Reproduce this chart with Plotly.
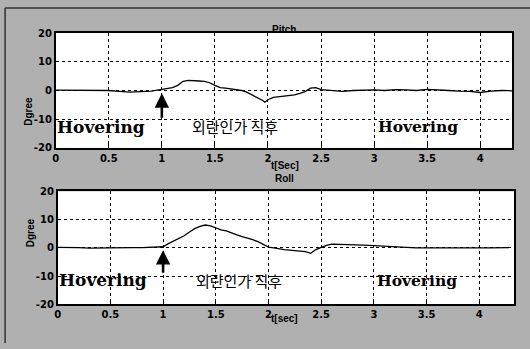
import plotly.graph_objects as go

# Pitch response (deg) over time (sec)
pitch_t = [0.0, 0.1, 0.2, 0.3, 0.4, 0.5, 0.6, 0.7, 0.8, 0.9, 1.0, 1.05, 1.1, 1.15,
           1.2, 1.25, 1.3, 1.35, 1.4, 1.45, 1.5, 1.55, 1.6, 1.65, 1.7, 1.75, 1.8,
           1.85, 1.9, 1.95, 1.97, 2.0, 2.05, 2.1, 2.15, 2.2, 2.25, 2.3, 2.35, 2.4,
           2.45, 2.5, 2.6, 2.7, 2.8, 2.9, 3.0, 3.1, 3.2, 3.3, 3.4, 3.5, 3.6, 3.7,
           3.8, 3.9, 4.0, 4.1, 4.2, 4.3]
pitch_deg = [0.1, 0.1, 0.2, 0.1, 0.0, 0.0, -0.3, -0.6, -0.4, -0.2, 0.4, 0.8, 1.0,
             1.8, 3.2, 3.5, 3.5, 3.3, 3.2, 2.7, 1.8, 1.0, 0.8, 0.6, 0.3, 0.0, -0.6,
             -1.5, -2.5, -3.5, -4.1, -3.2, -2.4, -2.2, -2.0, -1.8, -1.5, -1.0, -0.4,
             0.8, 1.0, 0.3, 0.1, -0.3, 0.0, 0.1, 0.2, 0.0, 0.3, 0.2, 0.0, 0.4, 0.1,
             0.0, -0.2, -0.3, -0.7, -0.2, 0.0, -0.1]

# Roll response (deg) over time (sec)
roll_t = [0.0, 0.1, 0.2, 0.3, 0.4, 0.5, 0.6, 0.7, 0.8, 0.9, 1.0, 1.05, 1.1, 1.15,
          1.2, 1.25, 1.3, 1.35, 1.4, 1.45, 1.5, 1.55, 1.6, 1.65, 1.7, 1.75, 1.8,
          1.85, 1.9, 1.95, 2.0, 2.05, 2.1, 2.15, 2.2, 2.25, 2.3, 2.35, 2.4, 2.45,
          2.5, 2.55, 2.6, 2.7, 2.8, 2.9, 3.0, 3.1, 3.2, 3.3, 3.4, 3.5, 3.6, 3.7,
          3.8, 3.9, 4.0, 4.1, 4.2, 4.28]
roll_deg = [0.2, 0.2, 0.1, -0.1, 0.0, 0.0, 0.0, 0.1, 0.1, 0.2, 0.4, 1.5, 2.4, 3.3,
            4.3, 5.6, 6.8, 7.6, 8.1, 7.8, 7.0, 6.4, 6.0, 5.2, 4.6, 4.0, 3.5, 2.9,
            2.2, 1.3, 0.3, 0.0, -0.4, -0.6, -0.8, -1.0, -1.1, -1.3, -1.9, -0.6,
            0.2, 0.9, 1.3, 1.2, 1.3, 1.0, 0.8, 0.6, 0.3, 0.1, 0.0, 0.0, 0.1, 0.0,
            0.0, 0.1, 0.0, 0.0, 0.1, 0.1]

x_ticks = [0, 0.5, 1, 1.5, 2, 2.5, 3, 3.5, 4]
x_tick_text = ["0", "0.5", "1", "1.5", "2", "2.5", "3", "3.5", "4"]
y_ticks = [-20, -10, 0, 10, 20]
y_tick_text = ["-20", "-10", "0", "10", "20"]

W, H = 530, 349
BG = "#b0b0b0"

fig = go.Figure()
fig.add_trace(go.Scatter(x=pitch_t, y=pitch_deg, mode="lines",
                         line=dict(color="black", width=1.3),
                         xaxis="x", yaxis="y", showlegend=False))
fig.add_trace(go.Scatter(x=roll_t, y=roll_deg, mode="lines",
                         line=dict(color="black", width=1.3),
                         xaxis="x2", yaxis="y2", showlegend=False))

def px_x(p):
    return p / W

def px_y(p):
    return 1 - p / H

axis_common = dict(
    showgrid=True, gridcolor="black", gridwidth=1, griddash="dot",
    zeroline=False, showline=True, linecolor="black", linewidth=1.5,
    mirror=True, ticks="inside", ticklen=4, tickcolor="black",
    tickfont=dict(family="DejaVu Sans", size=10, color="black", weight="bold"),
    fixedrange=True,
)

fig.update_layout(
    width=W, height=H,
    margin=dict(l=0, r=0, t=0, b=0),
    paper_bgcolor=BG, plot_bgcolor="white",
    xaxis=dict(domain=[px_x(53), px_x(512)], range=[0, 4.3], anchor="y",
               tickvals=x_ticks, ticktext=x_tick_text, **axis_common),
    yaxis=dict(domain=[px_y(147), px_y(28)], range=[-20, 20], anchor="x",
               tickvals=y_ticks, ticktext=y_tick_text, **axis_common),
    xaxis2=dict(domain=[px_x(55), px_x(514)], range=[0, 4.33], anchor="y2",
                tickvals=x_ticks, ticktext=x_tick_text, **axis_common),
    yaxis2=dict(domain=[px_y(309), px_y(192)], range=[-20, 20], anchor="x2",
                tickvals=y_ticks, ticktext=y_tick_text, **axis_common),
)

small_bold = dict(family="Liberation Sans", size=10, color="black", weight="bold")
serif_bold = dict(family="DejaVu Serif", color="black", weight="bold")
hangul = dict(family="Noto Sans CJK KR", size=15, color="black")

ann = []
# subplot titles and axis labels
ann.append(dict(text="Pitch", x=px_x(283), y=px_y(17), xref="paper", yref="paper",
                showarrow=False, font=small_bold))
ann.append(dict(text="Roll", x=px_x(283), y=px_y(179), xref="paper", yref="paper",
                showarrow=False, font=small_bold))
ann.append(dict(text="t[Sec]", x=px_x(284), y=px_y(165), xref="paper", yref="paper",
                showarrow=False, font=small_bold))
ann.append(dict(text="t[sec]", x=px_x(283), y=px_y(331), xref="paper", yref="paper",
                showarrow=False, font=small_bold))
ann.append(dict(text="Dgree", x=px_x(18), y=px_y(92), xref="paper", yref="paper",
                showarrow=False, textangle=-90, font=small_bold))
ann.append(dict(text="Dgree", x=px_x(20), y=px_y(252), xref="paper", yref="paper",
                showarrow=False, textangle=-90, font=small_bold))

# in-plot labels
for xr, yr, yv, kx in (("x", "y", -12.7, 1.69), ("x2", "y2", -11.5, 1.72)):
    ann.append(dict(text="Hovering", x=0.43, y=yv, xref=xr, yref=yr,
                    showarrow=False, font=dict(serif_bold, size=17)))
    ann.append(dict(text="Hovering", x=3.41, y=yv, xref=xr, yref=yr,
                    showarrow=False, font=dict(serif_bold, size=15.5)))
    ann.append(dict(text="외란인가 직후", x=kx, y=yv, xref=xr, yref=yr,
                    showarrow=False, font=hangul))

# arrows marking the disturbance instant
ann.append(dict(text="", x=1.0, y=-1.0, ax=1.0, ay=-10.0, xref="x", yref="y",
                axref="x", ayref="y", showarrow=True, arrowhead=2, arrowsize=1.1,
                arrowwidth=2.6, arrowcolor="black", standoff=0))
ann.append(dict(text="", x=1.0, y=-0.8, ax=1.0, ay=-9.3, xref="x2", yref="y2",
                axref="x2", ayref="y2", showarrow=True, arrowhead=2, arrowsize=1.1,
                arrowwidth=2.6, arrowcolor="black", standoff=0))

fig.update_layout(annotations=ann)

# thin dark edge along the top and left of the figure
fig.add_shape(type="line", xref="paper", yref="paper", x0=0.004, x1=1, y0=0.994, y1=0.994,
              line=dict(color="#333333", width=1.5))
fig.add_shape(type="line", xref="paper", yref="paper", x0=0.004, x1=0.004, y0=0, y1=0.994,
              line=dict(color="#333333", width=1.5))

fig.write_html("out.html")
